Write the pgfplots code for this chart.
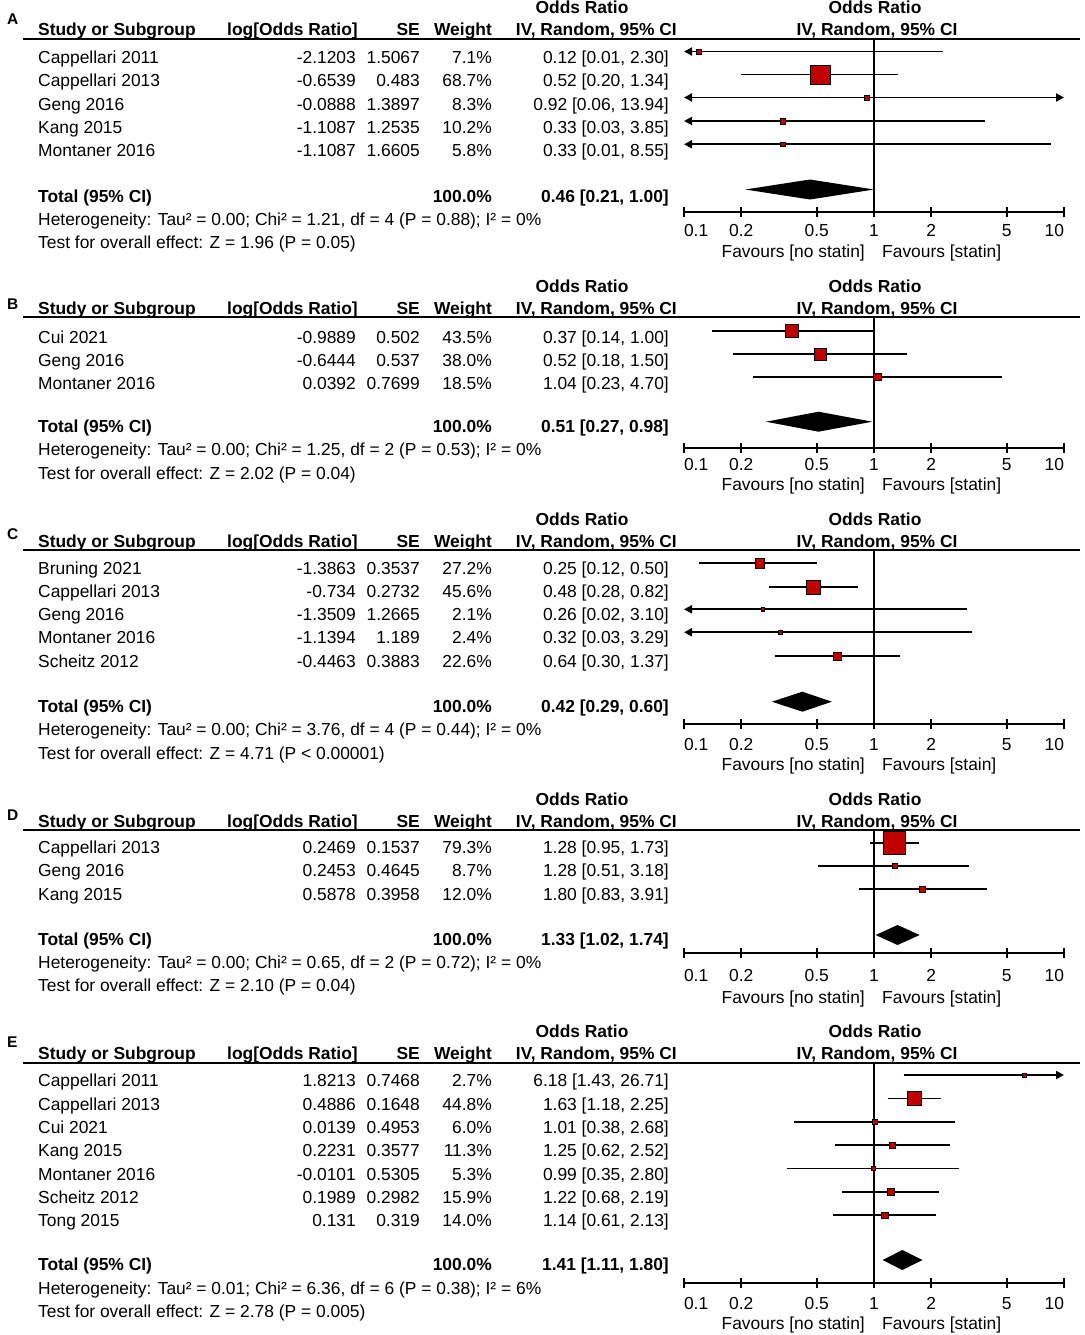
\documentclass[border=0pt]{standalone}
\usepackage{fontspec}
\setmainfont{Liberation Sans}
\usepackage{pgfplots}
\pgfplotsset{compat=1.18}
\usetikzlibrary{arrows.meta}

\definecolor{orred}{RGB}{192,0,0}
\newcommand{\fs}{\fontsize{17.4}{20}\selectfont}
\newcommand{\ls}{\fontsize{15.5}{18}\selectfont\bfseries}

\tikzset{
  lab/.style={anchor=base west, inner sep=0, font=\ls},
  hdl/.style={anchor=base west, inner sep=0, font=\fs\bfseries},
  hdr/.style={anchor=base east, inner sep=0, font=\fs\bfseries},
  hdc/.style={anchor=base, inner sep=0, font=\fs\bfseries},
  tl/.style={anchor=base west, inner sep=0, font=\fs},
  tr/.style={anchor=base east, inner sep=0, font=\fs},
  vline/.style={black, line width=1.6pt},
  ci/.style={black, line width=1.9pt},
  la/.style={{Triangle[length=8pt, width=8pt]}-},
  ra/.style={-{Triangle[length=8pt, width=8pt]}},
  lra/.style={{Triangle[length=8pt, width=8pt]}-{Triangle[length=8pt, width=8pt]}},
}

% table part, y in pixels from the top
% #1 letter, #2 header line y, #3 letter baseline
\newcommand{\thead}[3]{%
  \node[lab] at (7,#3) {#1};
  \node[hdc] at (582,#2-25) {Odds Ratio};
  \node[hdc] at (875,#2-25) {Odds Ratio};
  \node[hdl] at (38,#2-3) {Study or Subgroup};
  \node[hdl] at (227,#2-3) {log[Odds Ratio]};
  \node[hdr] at (420,#2-3) {SE};
  \node[hdr] at (492,#2-3) {Weight};
  \node[hdr] at (677,#2-3) {IV, Random, 95\% CI};
  \node[hdc] at (877,#2-3) {IV, Random, 95\% CI};
  \draw[line width=1.8pt] (23,#2) -- (1080,#2);
}
% #1 baseline, name, log OR, SE, weight, OR [CI]
\newcommand{\trow}[6]{%
  \node[tl] at (38,#1) {#2};
  \node[tr] at (356,#1) {#3};
  \node[tr] at (420,#1) {#4};
  \node[tr] at (492,#1) {#5\%};
  \node[tr] at (669,#1) {#6};
}
% #1 baseline, pooled OR [CI], heterogeneity, overall test
\newcommand{\ttot}[4]{%
  \node[hdl] at (38,#1) {Total (95\% CI)};
  \node[hdr] at (492,#1) {100.0\%};
  \node[hdr] at (669,#1) {#2};
  \node[tl] at (38,#1+23.3) {Heterogeneity: #3};
  \node[tl] at (38,#1+46.6) {Test for overall effect: #4};
}
\newcommand{\tfav}[2]{%
  \node[tr] at (865,#1) {Favours [no statin]};
  \node[tl] at (882,#1) {#2};
}

% forest part: #1 y, #2 OR, #3 lo, #4 hi (drawn, cut at the axis ends), #5 weight, #6 line style
\newcommand{\study}[6]{%
  \addplot[#6] coordinates {(#3,#1) (#4,#1)};
  \addplot[only marks, mark=square*, mark options={draw=none, fill=orred},
    mark size={(3+0.24*#5)/2}] coordinates {(#2,#1)};
}
% #1 y, #2 top, #3 bottom, #4 OR, #5 lo, #6 hi
\newcommand{\pooled}[6]{%
  \addplot[fill=black, draw=none] coordinates {(#5,#1) (#4,#2) (#6,#1) (#4,#3) (#5,#1)};
}

\begin{document}
\begin{tikzpicture}
\begin{scope}[x=1pt, y=-1pt]
\useasboundingbox (0,0) rectangle (1084,1335);

% ---- A
\thead{A}{39}{24.5}
\trow{63.5}{Cappellari 2011}{-2.1203}{1.5067}{7.1}{0.12 [0.01, 2.30]}
\trow{86.8}{Cappellari 2013}{-0.6539}{0.483}{68.7}{0.52 [0.20, 1.34]}
\trow{110.1}{Geng 2016}{-0.0888}{1.3897}{8.3}{0.92 [0.06, 13.94]}
\trow{133.4}{Kang 2015}{-1.1087}{1.2535}{10.2}{0.33 [0.03, 3.85]}
\trow{156.7}{Montaner 2016}{-1.1087}{1.6605}{5.8}{0.33 [0.01, 8.55]}
\ttot{202}{0.46 [0.21, 1.00]}{Tau² = 0.00; Chi² = 1.21, df = 4 (P = 0.88); I² = 0\%}{Z = 1.96 (P = 0.05)}
\tfav{257}{Favours [statin]}
\coordinate (axA) at (684,211.7);

% ---- B
\thead{B}{317.3}{309}
\trow{343}{Cui 2021}{-0.9889}{0.502}{43.5}{0.37 [0.14, 1.00]}
\trow{366.3}{Geng 2016}{-0.6444}{0.537}{38.0}{0.52 [0.18, 1.50]}
\trow{389.6}{Montaner 2016}{0.0392}{0.7699}{18.5}{1.04 [0.23, 4.70]}
\ttot{432.5}{0.51 [0.27, 0.98]}{Tau² = 0.00; Chi² = 1.25, df = 2 (P = 0.53); I² = 0\%}{Z = 2.02 (P = 0.04)}
\tfav{490}{Favours [statin]}
\coordinate (axB) at (684,448);

% ---- C
\thead{C}{550}{539}
\trow{574}{Bruning 2021}{-1.3863}{0.3537}{27.2}{0.25 [0.12, 0.50]}
\trow{597.3}{Cappellari 2013}{-0.734}{0.2732}{45.6}{0.48 [0.28, 0.82]}
\trow{620.6}{Geng 2016}{-1.3509}{1.2665}{2.1}{0.26 [0.02, 3.10]}
\trow{643.9}{Montaner 2016}{-1.1394}{1.189}{2.4}{0.32 [0.03, 3.29]}
\trow{667.2}{Scheitz 2012}{-0.4463}{0.3883}{22.6}{0.64 [0.30, 1.37]}
\ttot{712.5}{0.42 [0.29, 0.60]}{Tau² = 0.00; Chi² = 3.76, df = 4 (P = 0.44); I² = 0\%}{Z = 4.71 (P < 0.00001)}
\tfav{770}{Favours [stain]}
\coordinate (axC) at (684,724);

% ---- D
\thead{D}{830}{820.5}
\trow{853.3}{Cappellari 2013}{0.2469}{0.1537}{79.3}{1.28 [0.95, 1.73]}
\trow{876.7}{Geng 2016}{0.2453}{0.4645}{8.7}{1.28 [0.51, 3.18]}
\trow{900}{Kang 2015}{0.5878}{0.3958}{12.0}{1.80 [0.83, 3.91]}
\ttot{945}{1.33 [1.02, 1.74]}{Tau² = 0.00; Chi² = 0.65, df = 2 (P = 0.72); I² = 0\%}{Z = 2.10 (P = 0.04)}
\tfav{1003.5}{Favours [statin]}
\coordinate (axD) at (684,953.3);

% ---- E
\thead{E}{1062.7}{1047}
\trow{1086.7}{Cappellari 2011}{1.8213}{0.7468}{2.7}{6.18 [1.43, 26.71]}
\trow{1110}{Cappellari 2013}{0.4886}{0.1648}{44.8}{1.63 [1.18, 2.25]}
\trow{1133.3}{Cui 2021}{0.0139}{0.4953}{6.0}{1.01 [0.38, 2.68]}
\trow{1156.7}{Kang 2015}{0.2231}{0.3577}{11.3}{1.25 [0.62, 2.52]}
\trow{1180}{Montaner 2016}{-0.0101}{0.5305}{5.3}{0.99 [0.35, 2.80]}
\trow{1203.3}{Scheitz 2012}{0.1989}{0.2982}{15.9}{1.22 [0.68, 2.19]}
\trow{1226.7}{Tong 2015}{0.131}{0.319}{14.0}{1.14 [0.61, 2.13]}
\ttot{1270.7}{1.41 [1.11, 1.80]}{Tau² = 0.01; Chi² = 6.36, df = 6 (P = 0.38); I² = 6\%}{Z = 2.78 (P = 0.005)}
\tfav{1329}{Favours [statin]}
\coordinate (axE) at (684,1283.3);
\end{scope}

% ---- forest plots (y in negative pixels)
\begin{axis}[at={(axA)}, anchor=south west, scale only axis, width=380pt, height=172.7pt,
  xmode=log, xmin=0.1, xmax=10, ymin=-211.7, ymax=-39, clip=false,
  axis x line=bottom, axis y line=none, x axis line style={-, line width=1.8pt},
  xtick={0.1,0.2,0.5,1,2,5,10},
  xticklabels={\makebox[0pt][l]{0.1},0.2,0.5,1,2,5,\makebox[0pt][r]{10}},
  xminorticks=false, xtick align=center, major tick length=10pt,
  major tick style={black, line width=1.6pt},
  xticklabel style={font=\fs, anchor=base, inner sep=0pt, yshift=-19.8pt}]
\addplot[vline] coordinates {(1,-39) (1,-211.7)};
\study{-51.5}{0.12}{0.1}{2.30}{7.1}{ci,la}      % CI 0.01-2.30
\study{-74.5}{0.52}{0.20}{1.34}{68.7}{ci}
\study{-97.5}{0.92}{0.1}{10}{8.3}{ci,lra}       % CI 0.06-13.94
\study{-121}{0.33}{0.1}{3.85}{10.2}{ci,la}      % CI 0.03-3.85
\study{-144.3}{0.33}{0.1}{8.55}{5.8}{ci,la}     % CI 0.01-8.55
\pooled{-189.5}{-179.5}{-199.5}{0.46}{0.21}{1.00}
\end{axis}

\begin{axis}[at={(axB)}, anchor=south west, scale only axis, width=380pt, height=130.7pt,
  xmode=log, xmin=0.1, xmax=10, ymin=-448, ymax=-317.3, clip=false,
  axis x line=bottom, axis y line=none, x axis line style={-, line width=1.8pt},
  xtick={0.1,0.2,0.5,1,2,5,10},
  xticklabels={\makebox[0pt][l]{0.1},0.2,0.5,1,2,5,\makebox[0pt][r]{10}},
  xminorticks=false, xtick align=center, major tick length=10pt,
  major tick style={black, line width=1.6pt},
  xticklabel style={font=\fs, anchor=base, inner sep=0pt, yshift=-17.3pt}]
\addplot[vline] coordinates {(1,-317.3) (1,-448)};
\study{-330.7}{0.37}{0.14}{1.00}{43.5}{ci}
\study{-354}{0.52}{0.18}{1.50}{38.0}{ci}
\study{-376.7}{1.04}{0.23}{4.70}{18.5}{ci}
\pooled{-421.7}{-411.7}{-431.7}{0.51}{0.27}{0.98}
\end{axis}

\begin{axis}[at={(axC)}, anchor=south west, scale only axis, width=380pt, height=174pt,
  xmode=log, xmin=0.1, xmax=10, ymin=-724, ymax=-550, clip=false,
  axis x line=bottom, axis y line=none, x axis line style={-, line width=1.8pt},
  xtick={0.1,0.2,0.5,1,2,5,10},
  xticklabels={\makebox[0pt][l]{0.1},0.2,0.5,1,2,5,\makebox[0pt][r]{10}},
  xminorticks=false, xtick align=center, major tick length=10pt,
  major tick style={black, line width=1.6pt},
  xticklabel style={font=\fs, anchor=base, inner sep=0pt, yshift=-21pt}]
\addplot[vline] coordinates {(1,-550) (1,-724)};
\study{-563.3}{0.25}{0.12}{0.50}{27.2}{ci}
\study{-587}{0.48}{0.28}{0.82}{45.6}{ci}
\study{-609.3}{0.26}{0.1}{3.10}{2.1}{ci,la}     % CI 0.02-3.10
\study{-632.3}{0.32}{0.1}{3.29}{2.4}{ci,la}     % CI 0.03-3.29
\study{-656}{0.64}{0.30}{1.37}{22.6}{ci}
\pooled{-701.7}{-691.7}{-711.7}{0.42}{0.29}{0.60}
\end{axis}

\begin{axis}[at={(axD)}, anchor=south west, scale only axis, width=380pt, height=123.3pt,
  xmode=log, xmin=0.1, xmax=10, ymin=-953.3, ymax=-830, clip=false,
  axis x line=bottom, axis y line=none, x axis line style={-, line width=1.8pt},
  xtick={0.1,0.2,0.5,1,2,5,10},
  xticklabels={\makebox[0pt][l]{0.1},0.2,0.5,1,2,5,\makebox[0pt][r]{10}},
  xminorticks=false, xtick align=center, major tick length=10pt,
  major tick style={black, line width=1.6pt},
  xticklabel style={font=\fs, anchor=base, inner sep=0pt, yshift=-23.4pt}]
\addplot[vline] coordinates {(1,-830) (1,-953.3)};
\study{-842.7}{1.28}{0.95}{1.73}{79.3}{ci}
\study{-866}{1.28}{0.51}{3.18}{8.7}{ci}
\study{-889.3}{1.80}{0.83}{3.91}{12.0}{ci}
\pooled{-935}{-925}{-945}{1.33}{1.02}{1.74}
\end{axis}

\begin{axis}[at={(axE)}, anchor=south west, scale only axis, width=380pt, height=220.6pt,
  xmode=log, xmin=0.1, xmax=10, ymin=-1283.3, ymax=-1062.7, clip=false,
  axis x line=bottom, axis y line=none, x axis line style={-, line width=1.8pt},
  xtick={0.1,0.2,0.5,1,2,5,10},
  xticklabels={\makebox[0pt][l]{0.1},0.2,0.5,1,2,5,\makebox[0pt][r]{10}},
  xminorticks=false, xtick align=center, major tick length=10pt,
  major tick style={black, line width=1.6pt},
  xticklabel style={font=\fs, anchor=base, inner sep=0pt, yshift=-21pt}]
\addplot[vline] coordinates {(1,-1062.7) (1,-1283.3)};
\study{-1075}{6.18}{1.43}{10}{2.7}{ci,ra}       % CI 1.43-26.71
\study{-1098.5}{1.63}{1.18}{2.25}{44.8}{ci}
\study{-1121.8}{1.01}{0.38}{2.68}{6.0}{ci}
\study{-1145.2}{1.25}{0.62}{2.52}{11.3}{ci}
\study{-1168.5}{0.99}{0.35}{2.80}{5.3}{ci}
\study{-1191.8}{1.22}{0.68}{2.19}{15.9}{ci}
\study{-1215.2}{1.14}{0.61}{2.13}{14.0}{ci}
\pooled{-1260}{-1250}{-1270}{1.41}{1.11}{1.80}
\end{axis}
\end{tikzpicture}
\end{document}
